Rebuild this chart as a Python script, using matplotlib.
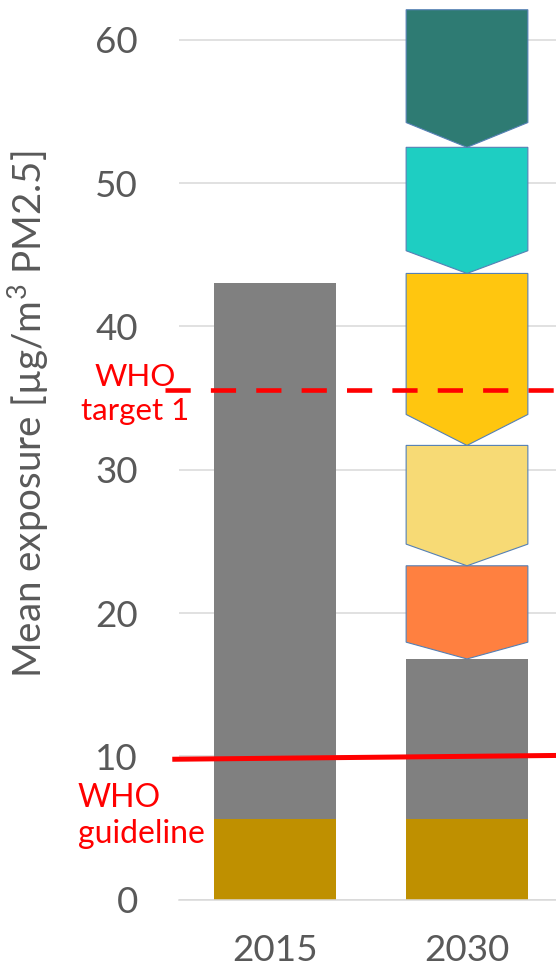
import numpy as np
import matplotlib
matplotlib.use("Agg")
import matplotlib.pyplot as plt
from matplotlib.patches import Polygon

plt.rcParams["font.family"] = ["Lato", "DejaVu Sans"]
plt.rcParams["mathtext.fontset"] = "custom"
plt.rcParams["mathtext.rm"] = "Lato"

# ---- data ----
years = ["2015", "2030"]
natural = [5.6, 5.6]              # natural background (bottom segment)
total = [43.0, 16.8]              # total mean exposure per year
# additional measure steps stacked above the 2030 bar (bottom -> top)
measure_steps = [6.5, 8.4, 12.0, 8.8, 9.6]
measure_colors = ["#FF8040", "#F7DA75", "#FFC60F", "#1ECEC2", "#2E7B73"]
who_guideline = (9.8, 10.07)      # hand-drawn line, slightly tilted
who_target1 = 35.6
yticks = [0, 10, 20, 30, 40, 50, 60]

GOLD = "#BF9000"
GRAY = "#808080"
GRID = "#D9D9D9"
TXT = "#595959"
RED = "#FF0000"

W, H = 556, 971
fig = plt.figure(figsize=(W / 100, H / 100), dpi=100)
ax = fig.add_axes([179 / W, 71.3 / H, 384 / W, 899.7 / H])

x = np.arange(len(years))
bw = 0.634
ax.bar(x, natural, bw, color=GOLD, zorder=2)
ax.bar(x, np.array(total) - np.array(natural), bw, bottom=natural, color=GRAY, zorder=2)

# chevron blocks on the 2030 column
base = total[1]
for step, col in zip(measure_steps, measure_colors):
    top = base + step
    d = 0.18 * step
    cx = x[1]
    verts = [(cx - bw / 2, top), (cx + bw / 2, top), (cx + bw / 2, base + d),
             (cx, base), (cx - bw / 2, base + d)]
    ax.add_patch(Polygon(verts, closed=True, facecolor=col, edgecolor="#5580B5",
                         lw=0.8, zorder=3))
    base = top

ax.set_xlim(-0.5, 1.5)
ax.set_ylim(0, 62.78)
ax.set_yticks(yticks)
ax.set_xticks(x)
ax.set_xticklabels(years)
ax.yaxis.grid(True, color=GRID, lw=1.1, zorder=0)
ax.set_axisbelow(True)
for s in ["top", "right", "left"]:
    ax.spines[s].set_visible(False)
ax.spines["bottom"].set_color(GRID)
ax.spines["bottom"].set_linewidth(1.1)
ax.tick_params(axis="y", length=0, pad=29.5, labelsize=26.5, labelcolor=TXT)
ax.tick_params(axis="x", length=0, pad=25, labelsize=26.5, labelcolor=TXT)

# WHO lines
ax.plot([-0.535, 1.5], who_guideline, color=RED, lw=3.6, clip_on=False, zorder=4,
        solid_capstyle="butt")
ax.plot([-0.572, 1.5], [who_target1, who_target1], color=RED, lw=3.3,
        dashes=(5.5, 4.4), clip_on=False, zorder=4)

fig.text(135 / W, 1 - 394 / H, "WHO\ntarget 1", color=RED, fontsize=22.5,
         ha="center", va="center", linespacing=1.3)
fig.text(78 / W, 1 - 816 / H, "WHO\nguideline", color=RED, fontsize=23,
         ha="left", va="center", linespacing=1.25)

fig.text(29 / W, 1 - 414 / H, "Mean exposure [µg/m$^3$ PM2.5]", color=TXT,
         fontsize=27.7, rotation=90, ha="center", va="center")

fig.savefig("out.png", dpi=100)
